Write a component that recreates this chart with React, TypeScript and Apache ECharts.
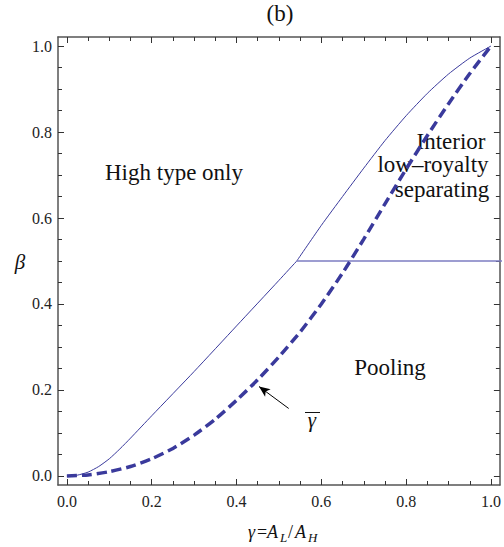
import React, { useEffect, useRef } from "react";
import * as echarts from "echarts";

// ---- data ----
const solidLowX = [0, 0.025, 0.05, 0.075, 0.1, 0.125, 0.15, 0.2, 0.3, 0.4, 0.5, 0.542];
const solidLowY = [0, 0.002, 0.009, 0.022, 0.04, 0.063, 0.088, 0.14, 0.243, 0.349, 0.455, 0.5];
const solidHighX = [0.542, 0.6, 0.65, 0.7, 0.75, 0.8, 0.85, 0.9, 0.95, 1.0];
const solidHighY = [0.5, 0.583, 0.65, 0.716, 0.78, 0.838, 0.89, 0.935, 0.972, 1.0];
const hLineX = [0.542, 1.03];
const hLineY = [0.5, 0.5];
const dashedX = [0, 0.05, 0.1, 0.15, 0.2, 0.25, 0.3, 0.35, 0.4, 0.45, 0.5, 0.55, 0.6, 0.65, 0.7, 0.75, 0.8, 0.85, 0.9, 0.95, 1.0];
const dashedY = [0, 0.0025, 0.01, 0.022, 0.04, 0.064, 0.095, 0.132, 0.176, 0.224, 0.277, 0.335, 0.4, 0.472, 0.551, 0.633, 0.714, 0.792, 0.866, 0.936, 1.0];
const arrowFrom = [0.523, 0.157];
const arrowTo = [0.453, 0.208];

const majorTicks = [0, 0.2, 0.4, 0.6, 0.8, 1.0];
const minorTicks = [0.05, 0.1, 0.15, 0.25, 0.3, 0.35, 0.45, 0.5, 0.55, 0.65, 0.7, 0.75, 0.85, 0.9, 0.95];
const axisMin = -0.021;
const axisMax = 1.021;

const SERIF = "Liberation Serif, DejaVu Serif, serif";
const BLUE = "#3a3a9c";

const zip = (xs: number[], ys: number[]) => xs.map((x, i) => [x, ys[i]]);

function makeAxis(position: string, ticks: number[], len: number, showLine: boolean, showLabels: boolean) {
  return {
    type: "value",
    position,
    min: axisMin,
    max: axisMax,
    axisLine: { show: showLine, onZero: false, lineStyle: { color: "#555", width: 1.5 } },
    axisTick: { show: true, inside: true, length: len, customValues: ticks, lineStyle: { color: "#333", width: 1 } },
    axisLabel: showLabels
      ? {
          show: true,
          customValues: majorTicks,
          formatter: (v: number) => v.toFixed(1),
          fontFamily: SERIF,
          fontSize: 16,
          color: "#222",
          margin: position === "left" ? 6 : 8,
        }
      : { show: false },
    splitLine: { show: false },
  };
}

export default function App() {
  const ref = useRef<HTMLDivElement>(null);
  useEffect(() => {
    document.body.style.margin = "0";
    const chart = echarts.init(ref.current!, null, { renderer: "svg" });
    const t = (text: string, x: number, y: number, size: number, opts: any = {}) => ({
      type: "text",
      x,
      y,
      style: {
        text,
        fontFamily: SERIF,
        fontSize: size,
        fill: "#111",
        align: opts.align || "center",
        verticalAlign: "middle",
        fontStyle: opts.italic ? "italic" : "normal",
      },
    });
    chart.setOption({
      animation: false,
      grid: { left: 58, top: 37, right: -2, bottom: 62 },
      xAxis: [
        makeAxis("bottom", majorTicks, 6, true, true),
        makeAxis("bottom", minorTicks, 4, false, false),
        makeAxis("top", majorTicks, 6, true, false),
        makeAxis("top", minorTicks, 4, false, false),
      ],
      yAxis: [
        makeAxis("left", majorTicks, 6, true, true),
        makeAxis("left", minorTicks, 4, false, false),
        makeAxis("right", majorTicks, 6, true, false),
        makeAxis("right", minorTicks, 4, false, false),
      ],
      series: [
        {
          type: "line",
          data: zip(solidLowX, solidLowY),
          smooth: 0.2,
          symbol: "none",
          lineStyle: { color: BLUE, width: 1 },
        },
        {
          type: "line",
          data: zip(solidHighX, solidHighY),
          smooth: 0.2,
          symbol: "none",
          lineStyle: { color: BLUE, width: 1 },
        },
        {
          type: "line",
          data: zip(hLineX, hLineY),
          symbol: "none",
          lineStyle: { color: "#7c7cc2", width: 1.5 },
        },
        {
          type: "line",
          data: zip(dashedX, dashedY),
          smooth: 0.2,
          symbol: "none",
          lineStyle: { color: BLUE, width: 3.5, type: [10, 5] },
          markLine: {
            silent: true,
            symbol: ["none", "arrow"],
            symbolSize: [7, 11],
            label: { show: false },
            lineStyle: { color: "#000", width: 1, type: "solid" },
            data: [[{ coord: arrowFrom }, { coord: arrowTo }]],
          },
        },
      ],
      graphic: [
        t("(b)", 280, 13, 23),
        t("β", 20, 262, 21, { italic: true }),
        t("High type only", 174, 172, 23),
        t("Pooling", 390, 367, 23),
        t("Interior", 451, 141, 23),
        t("low–royalty", 433, 164, 23),
        t("separating", 442, 189, 23),
        t("γ", 312, 420, 21, { italic: true }),
        { type: "line", shape: { x1: 305, y1: 412.5, x2: 320, y2: 412.5 }, style: { stroke: "#111", lineWidth: 1 } },
        t("γ", 248, 532, 18, { italic: true, align: "left" }),
        t("=", 257, 532, 18, { align: "left" }),
        t("A", 267, 532, 18, { italic: true, align: "left" }),
        t("L", 280, 537, 13, { italic: true, align: "left" }),
        t("/", 288, 532, 18, { align: "left" }),
        t("A", 295, 532, 18, { italic: true, align: "left" }),
        t("H", 308, 537, 13, { italic: true, align: "left" }),
      ],
    });
    return () => chart.dispose();
  }, []);
  return <div ref={ref} style={{ position: "absolute", left: 0, top: 0, width: 504, height: 547 }} />;
}
